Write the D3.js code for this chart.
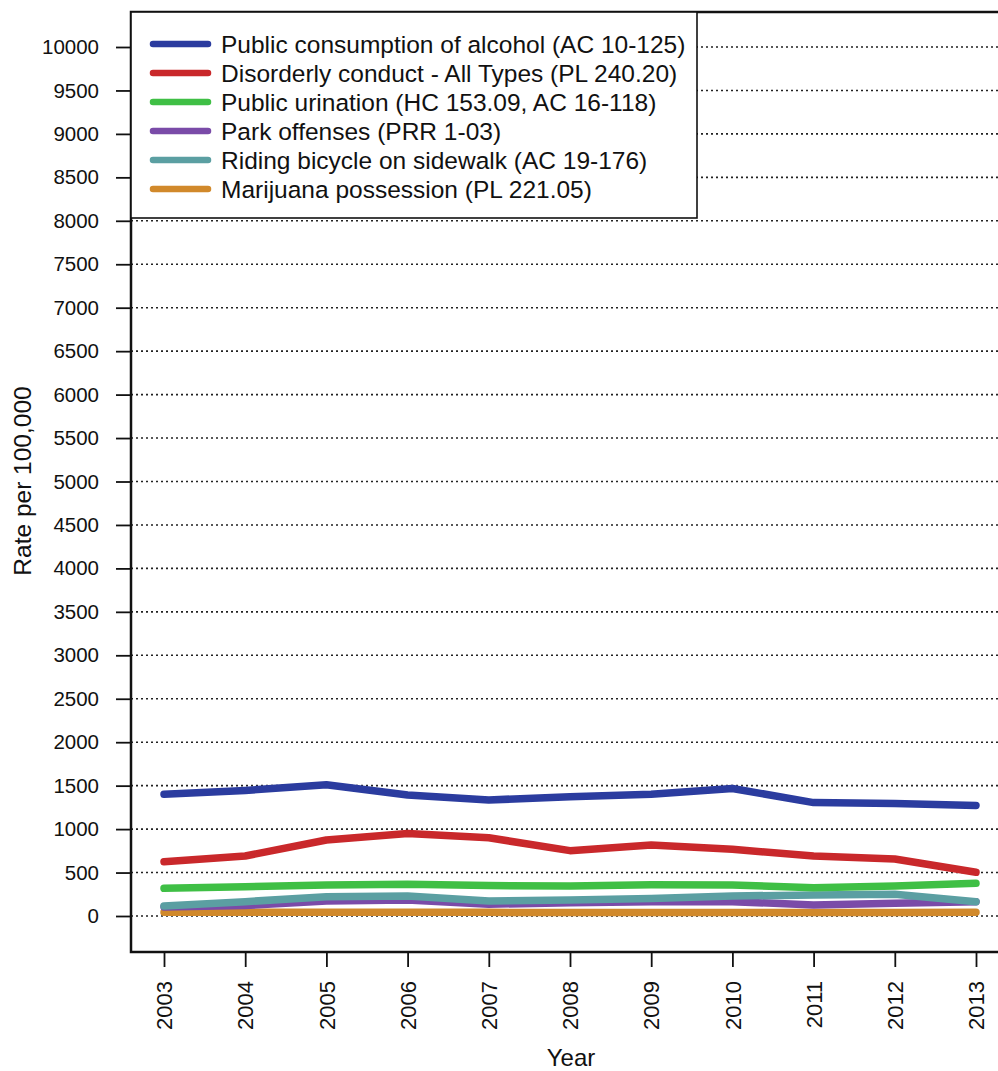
<!DOCTYPE html>
<html><head><meta charset="utf-8">
<script src="https://cdn.jsdelivr.net/npm/d3@7"></script>
<style>body{margin:0;background:#fff}svg{display:block}text{font-family:"Liberation Sans",Arial,Helvetica,sans-serif;fill:#111}</style>
</head><body>
<svg id="c" width="998" height="1071"></svg>
<script>
const years = [2003,2004,2005,2006,2007,2008,2009,2010,2011,2012,2013];
const seriesNames = [
  "Public consumption of alcohol (AC 10-125)",
  "Disorderly conduct - All Types (PL 240.20)",
  "Public urination (HC 153.09, AC 16-118)",
  "Park offenses (PRR 1-03)",
  "Riding bicycle on sidewalk (AC 19-176)",
  "Marijuana possession (PL 221.05)"
];
const seriesColors = ["#2b3c9f","#c9282b","#3fbf45","#7a4ba8","#5b9fa2","#d1892b"];
const alcohol   = [1400,1445,1510,1392,1335,1373,1400,1468,1305,1296,1272];
const disorderly= [625,690,875,950,900,752,817,767,690,656,503];
const urination = [318,337,357,365,350,345,360,357,326,345,376];
const park      = [105,120,172,184,135,153,165,165,127,146,165];
const bicycle   = [115,165,222,230,172,184,202,230,242,250,165];
const marijuana = [42,42,42,42,42,40,40,40,40,40,42];
const seriesValues = [alcohol,disorderly,urination,park,bicycle,marijuana];
const yTicks = d3.range(0,10001,500);

(function(){
const svg = d3.select("#c");
const pl=131, pt=12, pb=952, pr=1012;
const x = d3.scalePoint().domain(years).range([164,976]);
const y = d3.scaleLinear().domain([0,10000]).range([916,47]);

svg.append("g").selectAll("line").data(yTicks).join("line")
  .attr("x1",pl).attr("x2",998).attr("y1",d=>y(d)).attr("y2",d=>y(d))
  .attr("stroke","#222").attr("stroke-width",1.6).attr("stroke-dasharray","2,3");

const line = d3.line().x((d,i)=>x(years[i])).y(d=>y(d));
const order=[5,3,4,2,1,0];
order.forEach(k=>{
  svg.append("path").attr("d",line(seriesValues[k])).attr("fill","none")
    .attr("stroke",seriesColors[k]).attr("stroke-width",7.5)
    .attr("stroke-linejoin","round").attr("stroke-linecap","round");
});

svg.append("rect").attr("x",pl).attr("y",pt).attr("width",pr-pl).attr("height",pb-pt)
  .attr("fill","none").attr("stroke","#111").attr("stroke-width",2.5);

const ya = svg.append("g").attr("transform",`translate(${pl},0)`)
  .call(d3.axisLeft(y).tickValues(yTicks).tickSize(15).tickPadding(17).tickFormat(d3.format("d")));
ya.select(".domain").remove();
ya.selectAll("line").attr("stroke","#111").attr("stroke-width",1.8);
ya.selectAll("text").attr("font-size","20.5px").attr("fill","#111");

const xa = svg.append("g").attr("transform",`translate(0,${pb})`)
  .call(d3.axisBottom(x).tickSize(15).tickFormat(d3.format("d")));
xa.select(".domain").remove();
xa.selectAll("line").attr("stroke","#111").attr("stroke-width",1.8);
xa.selectAll("text").attr("font-size","22px").attr("fill","#111")
  .attr("transform","rotate(-90)").attr("text-anchor","end")
  .attr("x",-29).attr("y",0).attr("dy","0.35em");

svg.append("text").attr("x",571).attr("y",1066).attr("text-anchor","middle").attr("font-size","24px").text("Year");
svg.append("text").attr("transform","translate(31,481) rotate(-90)").attr("text-anchor","middle").attr("font-size","24.5px").text("Rate per 100,000");

const lg = svg.append("g");
lg.append("rect").attr("x",131).attr("y",12).attr("width",566).attr("height",206)
  .attr("fill","#fff").attr("stroke","#111").attr("stroke-width",1.6);
seriesNames.forEach((n,i)=>{
  const yy = 44 + i*29;
  lg.append("line").attr("x1",153).attr("x2",208).attr("y1",yy).attr("y2",yy)
    .attr("stroke",seriesColors[i]).attr("stroke-width",6.5).attr("stroke-linecap","round");
  lg.append("text").attr("x",221).attr("y",yy).attr("dy","0.35em").attr("font-size","24.5px").text(n);
});
})();
</script>
</body></html>
